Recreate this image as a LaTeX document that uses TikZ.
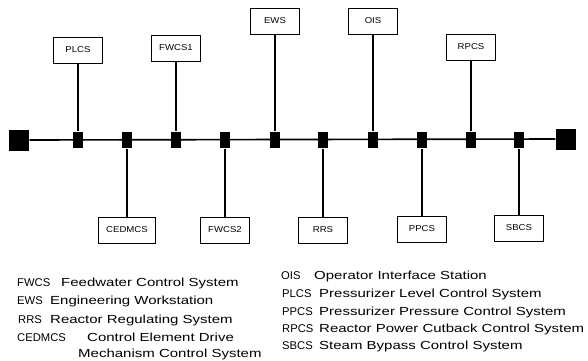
\documentclass[tikz,border=0pt]{standalone}
\usepackage{fontspec}
\setmainfont{Liberation Sans}
\newfontfamily\widefont[FakeStretch=1.28]{Liberation Sans}
\newfontfamily\boxfont[FakeStretch=1.12]{Liberation Sans}
\usetikzlibrary{positioning}
\tikzset{
    netbox/.style={draw, thin, fill=white, font=\boxfont\fontsize{7.3}{9}\selectfont, minimum width=1.47cm, minimum height=0.78cm, inner sep=1pt},
    nettap/.style={fill=black, minimum width=0.32cm, minimum height=0.5cm, inner sep=0pt},
    netend/.style={fill=black, minimum width=0.62cm, minimum height=0.63cm, inner sep=0pt},
    netbus/.style={line width=1.4pt},
    netstem/.style={line width=0.9pt},
    netkey/.style={font=\widefont\fontsize{10}{12}\selectfont, anchor=base west, inner sep=0pt},
    netabbr/.style={font=\fontsize{9.6}{12}\selectfont, anchor=base west, inner sep=0pt}
}
\begin{document}
\begin{tikzpicture}[x=0.03cm, y=-0.03cm]
        \useasboundingbox (0,0) rectangle (588,360);

        % bus ends
        \node[netend] (lend) at (19,140) {};
        \node[netend] (rend) at (566,139) {};
        \draw[netbus] (lend) -- (rend);

        % taps on the bus
        \foreach \n/\x in {1/78,2/127,3/176,4/225,5/275,6/323,7/373,8/422,9/471,10/519}
            \node[nettap] (t\n) at (\x,140) {};

        % units above the bus
        \node[netbox] (plcs) at (78,50) {PLCS};
        \node[netbox] (fwcsa) at (176,48) {FWCS1};
        \node[netbox] (ews) at (275,21) {EWS};
        \node[netbox] (ois) at (373,21) {OIS};
        \node[netbox] (rpcs) at (471,47) {RPCS};

        % units below the bus
        \node[netbox, minimum width=1.71cm] (cedmcs) at (127,230) {CEDMCS};
        \node[netbox] (fwcsb) at (225,230) {FWCS2};
        \node[netbox] (rrs) at (323,230) {RRS};
        \node[netbox] (ppcs) at (422,229) {PPCS};
        \node[netbox] (sbcs) at (519,228) {SBCS};

        \foreach \a/\b in {plcs/t1,cedmcs/t2,fwcsa/t3,fwcsb/t4,ews/t5,rrs/t6,ois/t7,ppcs/t8,rpcs/t9,sbcs/t10}
            \draw[netstem] (\a) -- (\b);

        % legend, left column
        \node[netabbr] (kfwcs) at (17,286) {FWCS};
        \node[netkey] (dfwcs) at (61,286) {Feedwater Control System};
        \node[netabbr] (kews) at (17,304) {EWS};
        \node[netkey] (dews) at (50,304) {Engineering Workstation};
        \node[netabbr] (krrs) at (18,323) {RRS};
        \node[netkey] (drrs) at (50,323) {Reactor Regulating System};
        \node[netabbr] (kcedmcs) at (17,341) {CEDMCS};
        \node[netkey] (dcedmcs) at (87,341) {Control Element Drive};
        \node[netkey] (dcedmcsb) at (78,357) {Mechanism Control System};

        % legend, right column
        \node[netabbr] (kois) at (281,279) {OIS};
        \node[netkey] (dois) at (314,279) {Operator Interface Station};
        \node[netabbr] (kplcs) at (282,297) {PLCS};
        \node[netkey] (dplcs) at (319,297) {Pressurizer Level Control System};
        \node[netabbr] (kppcs) at (282,315) {PPCS};
        \node[netkey] (dppcs) at (319,315) {Pressurizer Pressure Control System};
        \node[netabbr] (krpcs) at (282,332) {RPCS};
        \node[netkey] (drpcs) at (319,332) {Reactor Power Cutback Control System};
        \node[netabbr] (ksbcs) at (282,349) {SBCS};
        \node[netkey] (dsbcs) at (319,349) {Steam Bypass Control System};
    \end{tikzpicture}
\end{document}
